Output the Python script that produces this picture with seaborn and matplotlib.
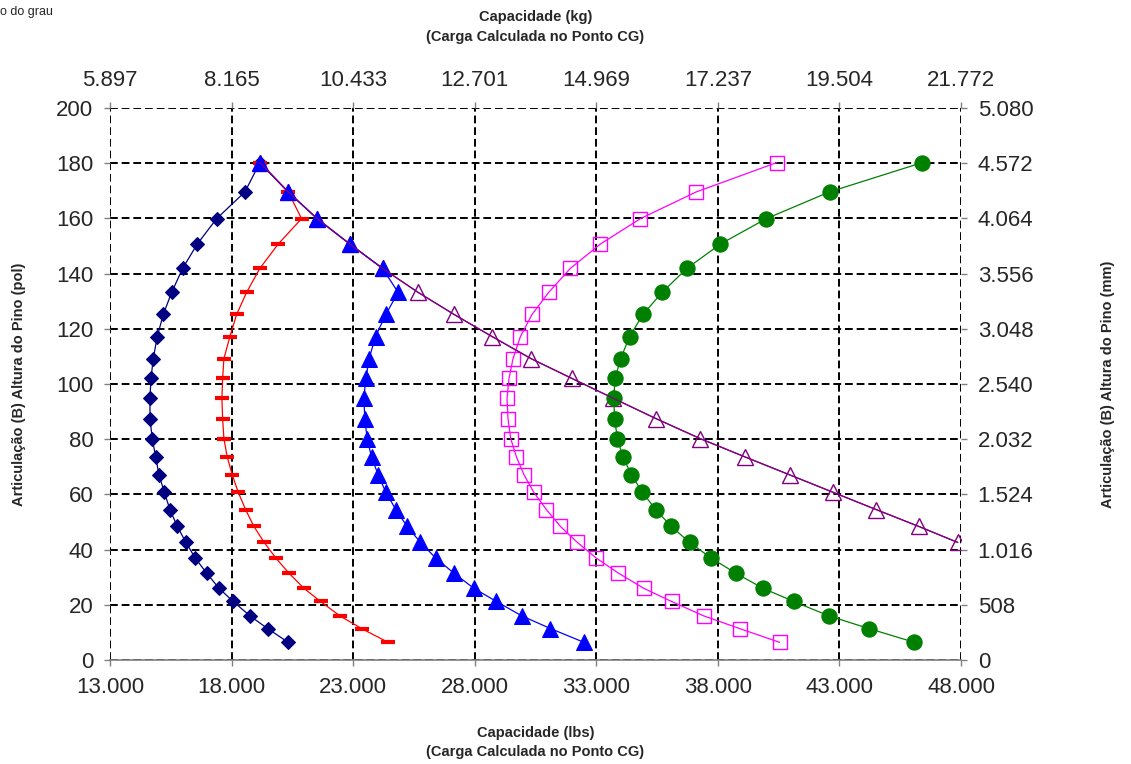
import numpy as np
import pandas as pd
import matplotlib
matplotlib.use("Agg")
import matplotlib.pyplot as plt
import seaborn as sns

# ---------------- data (heights in pol, capacities in lbs) ----------------
heights = [6.4, 11.4, 16.0, 21.2, 26.0, 31.5, 36.9, 42.6, 48.4, 54.5, 60.8, 67.1, 73.6,
           80.2, 87.4, 94.8, 102.0, 109.2, 117.2, 125.2, 133.2, 141.9, 150.7, 159.9,
           169.6, 180.2]

cap_diamond = [20328, 19481, 18754, 18068, 17480, 16974, 16506, 16124, 15766, 15466,
               15232, 15014, 14878, 14739, 14644, 14644, 14685, 14780, 14944, 15191,
               15536, 15988, 16588, 17385, 18549, 19165]

cap_dash = [24438, 23345, 22453, 21660, 20973, 20357, 19823, 19342, 18918, 18577,
            18273, 18027, 17821, 17685, 17632, 17603, 17632, 17685, 17932, 18207,
            18618, 19165, 19917, 20879, 20328, 19165]

cap_triangle = [32494, 31113, 29933, 28893, 27960, 27138, 26399, 25770, 25219, 24755,
                24344, 24027, 23756, 23575, 23481, 23439, 23522, 23657, 23920, 24344,
                24849, 24208, 22864, 21520, 20328, 19165]

heights_open = [42.6, 48.4, 54.5, 60.8, 67.1, 73.6, 80.2, 87.4, 94.8, 102.0, 109.2,
                117.2, 125.2, 133.2, 141.9, 150.7, 159.9, 169.6, 180.2]
cap_open_triangle = [47865, 46262, 44511, 42728, 40948, 39111, 37278, 35469, 33706,
                     32001, 30315, 28713, 27151, 25671, 24208, 22864, 21520, 20328, 19165]

cap_square = [40537, 38893, 37413, 36098, 34947, 33908, 33003, 32222, 31524, 30948,
              30426, 30028, 29715, 29481, 29370, 29329, 29411, 29576, 29880, 30357,
              31043, 31935, 33168, 34812, 37113, 40414]

cap_circle = [46086, 44207, 42563, 41125, 39851, 38729, 37730, 36838, 36086, 35441,
              34894, 34442, 34097, 33866, 33756, 33714, 33776, 34002, 34372, 34919,
              35708, 36727, 38104, 39990, 42592, 46402]

x_ticks = [13000, 18000, 23000, 28000, 33000, 38000, 43000, 48000]
x_labels = ["13.000", "18.000", "23.000", "28.000", "33.000", "38.000", "43.000", "48.000"]
kg_labels = ["5.897", "8.165", "10.433", "12.701", "14.969", "17.237", "19.504", "21.772"]
y_ticks = [0, 20, 40, 60, 80, 100, 120, 140, 160, 180, 200]
mm_labels = ["0", "508", "1.016", "1.524", "2.032", "2.540", "3.048", "3.556",
             "4.064", "4.572", "5.080"]

# ---------------- style ----------------
sns.set_style("white")
plt.rcParams["font.family"] = ["Liberation Sans", "DejaVu Sans"]

fig = plt.figure(figsize=(11.31, 7.64), dpi=100)
L, R, T, B = 110 / 1131, 961 / 1131, 1 - 108 / 764, 1 - 660 / 764
ax = fig.add_axes([L, B, R - L, T - B])

series = [
    (cap_diamond, heights, dict(color="#000080", marker="D", markersize=7,
                                markerfacecolor="#000080", markeredgecolor="#000080")),
    (cap_dash, heights, dict(color="#FF0000", marker="_", markersize=10.5,
                             markeredgewidth=3.0, markeredgecolor="#FF0000")),
    (cap_open_triangle, heights_open, dict(color="#800080", marker="^", markersize=11.5,
                                           markerfacecolor="none", markeredgecolor="#800080",
                                           markeredgewidth=1.0)),
    (cap_triangle, heights, dict(color="#0000FF", marker="^", markersize=11.5,
                                 markerfacecolor="#0000FF", markeredgecolor="#0000FF")),
    (cap_square, heights, dict(color="#FF00FF", marker="s", markersize=10.5,
                               markerfacecolor="none", markeredgecolor="#FF00FF",
                               markeredgewidth=1.0)),
    (cap_circle, heights, dict(color="#008000", marker="o", markersize=11,
                               markerfacecolor="#008000", markeredgecolor="#008000")),
]
for xs, ys, kw in series:
    df = pd.DataFrame({"x": xs, "y": ys})
    sns.lineplot(data=df, x="x", y="y", sort=False, estimator=None, ax=ax,
                 linewidth=0.9, **kw)
# purple line drawn over the shared top points
df = pd.DataFrame({"x": cap_open_triangle, "y": heights_open})
sns.lineplot(data=df, x="x", y="y", sort=False, estimator=None, ax=ax,
             color="#800080", linewidth=0.9, zorder=5)

ax.set_xlim(13000, 48000)
ax.set_ylim(0, 200)
ax.set_xticks(x_ticks)
ax.set_xticklabels(x_labels)
ax.set_yticks(y_ticks)
ax.set_xlabel("")
ax.set_ylabel("")
ax.grid(True, color="black", linestyle=(0, (4, 2)), linewidth=1.4)
ax.set_axisbelow(True)
for s in ["top", "right", "left"]:
    ax.spines[s].set_visible(False)
ax.spines["bottom"].set_color("#808080")
ax.spines["bottom"].set_linewidth(1.2)
ax.tick_params(axis="both", labelsize=16, length=4, width=1, color="#808080",
               direction="out", pad=8)
ax.tick_params(axis="x", which="both", bottom=True)
ax.tick_params(axis="y", which="both", left=True)

# top axis in kg
axt = ax.twiny()
axt.set_xlim(ax.get_xlim())
axt.set_xticks(x_ticks)
axt.set_xticklabels(kg_labels)
axt.tick_params(axis="x", labelsize=16, length=4, width=1, color="#808080", pad=8)
# right axis in mm
axr = ax.twinx()
axr.set_ylim(ax.get_ylim())
axr.set_yticks(y_ticks)
axr.set_yticklabels(mm_labels)
axr.tick_params(axis="y", labelsize=16, length=4, width=1, color="#808080", pad=8)
for a in (axt, axr):
    for s in a.spines.values():
        s.set_visible(False)
    a.grid(False)

# axis titles
cx = (L + R) / 2
fig.text(cx, 1 - 733 / 764, "Capacidade (lbs)", ha="center", va="center",
         fontsize=10.5, fontweight="bold")
fig.text(cx, 1 - 752 / 764, "(Carga Calculada no Ponto CG)", ha="center",
         va="center", fontsize=10.5, fontweight="bold")
fig.text(cx, 1 - 17 / 764, "Capacidade (kg)", ha="center", va="center",
         fontsize=10.5, fontweight="bold")
fig.text(cx, 1 - 37 / 764, "(Carga Calculada no Ponto CG)", ha="center",
         va="center", fontsize=10.5, fontweight="bold")
fig.text(19 / 1131, 1 - 384 / 764, "Articulação (B) Altura do Pino (pol)", ha="center",
         va="center", rotation=90, fontsize=10.5, fontweight="bold")
fig.text(1108 / 1131, 1 - 384 / 764, "Articulação (B) Altura do Pino (mm)", ha="center",
         va="center", rotation=90, fontsize=10.5, fontweight="bold")
fig.text(0.0, 1 - 12 / 764, "o do grau", ha="left", va="center", fontsize=9)

fig.savefig("out.png", dpi=100)
